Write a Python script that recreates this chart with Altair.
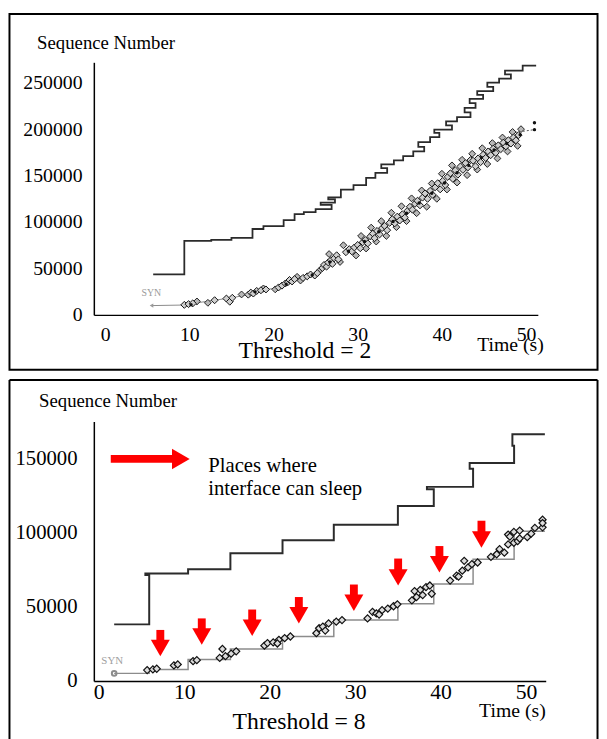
import altair as alt
import pandas as pd

SERIF = "Liberation Serif"

# ---------------- Top panel: Threshold = 2 ----------------
top_xticks = [0, 10, 20, 30, 40, 50]
top_yticks = [0, 50000, 100000, 150000, 200000, 250000]

top_win_t = [5.7, 9.4, 9.4, 12.6, 12.6, 15.0, 15.0, 17.5, 17.5, 18.8, 18.8, 21.2, 21.2, 22.5, 22.5,
             23.6, 23.6, 25.0, 25.0, 26.9, 26.9, 25.6, 25.6, 27.3, 27.3, 26.5, 26.5, 28.0, 28.0,
             29.5, 29.5, 31.0, 31.0, 32.1, 32.1, 33.5, 33.5, 32.8, 32.8, 34.3, 34.3, 35.4, 35.4,
             36.6, 36.6, 37.9, 37.9, 37.2, 37.2, 38.6, 38.6, 39.7, 39.7, 39.1, 39.1, 41.2, 41.2,
             40.5, 40.5, 41.8, 41.8, 43.4, 43.4, 42.7, 42.7, 44.0, 44.0, 43.3, 43.3, 44.9, 44.9,
             44.2, 44.2, 46.1, 46.1, 45.4, 45.4, 46.8, 46.8, 48.2, 48.2, 47.5, 47.5, 49.6, 49.6, 51.2]
top_win_seq = [43600, 43600, 79800, 79800, 80900, 80900, 83000, 83000, 92500, 92500, 95700, 95700,
               102000, 102000, 108500, 108500, 110600, 110600, 113800, 113800, 118400, 118400,
               121000, 121000, 124500, 124500, 126600, 126600, 135000, 135000, 139700, 139700,
               147500, 147500, 153000, 153000, 158000, 158000, 162000, 162000, 166500, 166500,
               171000, 171000, 176000, 176000, 181000, 181000, 186000, 186000, 191500, 191500,
               196000, 196000, 199500, 199500, 204000, 204000, 208500, 208500, 213000, 213000,
               218000, 218000, 223000, 223000, 228000, 228000, 232500, 232500, 237000, 237000,
               241000, 241000, 245500, 245500, 250000, 250000, 254500, 254500, 259000, 259000,
               263000, 263000, 268500, 268500]

top_pkt_t = [9.4, 9.9, 10.4, 13.0, 14.4, 14.8, 15.1, 17.0, 17.3, 17.6, 18.0, 18.5, 19.1,
             20.6, 21.0, 21.4, 21.7, 21.9, 22.2, 22.5,
             23.5, 24.0, 24.4, 24.9, 25.2,
             25.8, 26.0, 26.3, 26.5, 26.8, 27.0, 27.2, 27.5, 27.7,
             28.6, 29.0, 29.3, 29.6, 30.0, 30.3, 30.6, 30.9, 31.2,
             31.5, 31.8, 32.0, 32.3, 32.6, 32.9, 33.2, 33.5, 33.8,
             34.1, 34.4, 34.7, 35.0, 35.3, 35.6, 35.9, 36.2,
             36.5, 36.8, 37.1, 37.4, 37.7, 38.0, 38.3, 38.6,
             38.9, 39.2, 39.5, 39.8, 40.1, 40.4, 40.7, 41.0,
             41.3, 41.6, 41.9, 42.2, 42.5, 42.8, 43.1, 43.4,
             43.7, 44.0, 44.3, 44.6, 44.9, 45.2, 45.5, 45.8,
             46.1, 46.4, 46.7, 47.0, 47.3, 47.6, 47.9, 48.2,
             48.5, 48.8, 49.1]
top_pkt_seq = [10800, 11600, 12400, 15800, 17600, 14200, 18400, 21800, 24000, 23000, 25800, 26500, 27400,
               29600, 31500, 33800, 35200, 37600, 36000, 38500,
               39800, 41500, 43500, 42400, 45000,
               50500, 53800, 52000, 56500, 58900, 55000, 61000, 64200, 59800,
               67500, 70800, 68400, 72600, 75300, 71800, 78200, 80700, 77000,
               84500, 87600, 82600, 90400, 86700, 93500, 95800, 91200, 99200,
               103000, 98600, 105800, 101700, 108300, 104800, 112000, 116400,
               113300, 119600, 122900, 118000, 126300, 130800, 125000, 133600,
               129300, 137400, 141800, 135200, 144300, 139900, 148600, 152400,
               146500, 155700, 151000, 159800, 156200, 163400, 158900, 166700,
               166000, 160000, 168500, 164500, 172500, 169000, 176000, 172000,
               179000, 174500, 182500, 178500, 185500, 181500, 188000, 184500,
               191000, 188000, 193500]

top_pkt2_t = [10.9, 12.2, 16.2, 18.8, 20.2, 22.8, 23.2, 25.5, 26.6, 27.9, 28.3, 29.8, 30.4, 31.0,
              31.6, 32.2, 32.8, 33.4, 34.0, 34.6, 35.2, 35.8, 36.4, 37.0, 37.6, 38.2, 38.8, 39.4,
              40.0, 40.6, 41.2, 41.8, 42.4, 43.0, 43.6, 44.2, 44.8, 45.4, 46.0, 46.6, 47.2, 47.8,
              48.4, 49.0, 49.4]
top_pkt2_seq = [14500, 13000, 22000, 28500, 27500, 41000, 37000, 48000, 65500, 57000, 75000, 64000,
                85000, 71500, 94000, 79000, 101000, 85000, 110000, 94500, 117000, 101000, 125500,
                109500, 134000, 116500, 141500, 125000, 152000, 135000, 161000, 142500, 167000,
                150500, 173500, 156500, 179500, 162500, 185000, 168500, 191000, 176000, 197000,
                182000, 200000]

top_ack_t = [10.2, 17.8, 21.5, 24.6, 26.7, 28.9, 30.8, 32.5, 34.2, 35.8, 37.3, 38.8, 40.3,
             41.8, 43.2, 44.7, 46.2, 47.7, 49.3, 51.0, 51.0]
top_ack_seq = [11000, 24800, 33000, 43000, 57000, 68500, 79000, 89500, 100500, 109500, 120500,
               131000, 142000, 153000, 161000, 169500, 177500, 184500, 194000, 199500, 207000]

top_syn_t = [5.5, 9.3, 12.7, 14.6, 16.6, 18.5, 20.7]
top_syn_seq = [10000, 10600, 15500, 17800, 21000, 26000, 29800]
top_tail_t = [48.7, 51.0]
top_tail_seq = [196500, 199500]

# ---------------- Bottom panel: Threshold = 8 ----------------
bot_xticks = [0, 10, 20, 30, 40, 50]
bot_yticks = [0, 50000, 100000, 150000]

bot_win_t = [1.8, 5.9, 5.9, 5.45, 5.45, 10.45, 10.45, 15.4, 15.4, 21.5, 21.5, 27.5, 27.5, 35.0,
             35.0, 39.2, 39.2, 38.4, 38.4, 43.8, 43.8, 43.4, 43.4, 48.6, 48.6, 48.4, 48.4, 52.2]
bot_win_seq = [38200, 38200, 71500, 71500, 72600, 72600, 75500, 75500, 86200, 86200, 95100,
               95100, 105500, 105500, 118200, 118200, 129500, 129500, 131100, 131100, 143300,
               143300, 147300, 147300, 158900, 158900, 166700, 166700]

bot_ack_t = [1.8, 5.9, 5.9, 10.45, 10.45, 15.4, 15.4, 21.5, 21.5, 27.5, 27.5, 35.0, 35.0, 39.2,
             39.2, 43.8, 43.8, 48.6, 48.6, 52.2]
bot_ack_seq = [5100, 5100, 7800, 7800, 14500, 14500, 21500, 21500, 30000, 30000, 41100, 41100,
               52200, 52200, 65500, 65500, 82200, 82200, 101100, 101100]

bot_pkt_t = [5.66, 6.33, 6.78, 8.79, 9.24, 11.03, 11.47, 14.47, 14.15, 14.82, 15.49, 16.08,
             19.38, 19.74, 20.41, 21.08, 21.75, 22.42, 25.46, 25.78, 26.22, 26.89, 27.79, 28.46,
             31.45, 32.03, 32.48, 33.15, 33.82, 34.49, 34.94, 36.64, 37.18, 37.62, 38.29, 38.74,
             38.96, 36.95, 41.11, 41.87, 42.54, 42.76, 43.21, 43.66, 44.33, 45.89, 46.56, 47.46,
             47.90, 48.57, 49.02, 49.25, 47.90, 48.57, 49.25, 50.14, 51.03, 51.93, 51.93, 51.93,
             20.9, 26.5, 32.8, 37.9, 42.1, 46.9, 48.1, 50.6]
bot_pkt_seq = [7350, 7800, 8240, 10460, 11130, 13350, 14020, 21570, 15570, 16690, 18460, 20020,
               23800, 25570, 26020, 27800, 28910, 30020, 32240, 35580, 36690, 38910, 40020, 41130,
               42240, 46680, 45570, 47790, 48900, 50460, 51790, 54460, 56680, 61570, 63350, 64460,
               58900, 60680, 67790, 71130, 74460, 81130, 76680, 78900, 80010, 83790, 85570, 86680,
               92230, 93350, 94460, 96230, 98900, 100680, 101570, 97120, 103350, 103790, 108900,
               106680,
               25300, 34000, 44800, 58000, 70500, 89000, 97500, 99500]

# red "sleep" arrows
arrow_t = [7.2, 12.05, 17.95, 23.41, 29.85, 35.03, 39.86, 44.78]
arrow_top = [34450, 42240, 48240, 56680, 65130, 82680, 91120, 108230]
arrow_tip = [16690, 24460, 30460, 38900, 47350, 64460, 73350, 90010]
legend_arrow_t = [1.4, 9.6]
legend_arrow_seq = [150000, 150000]
legend_text = ["Places where", "interface can sleep"]
legend_text_t = [12.8, 12.8]
legend_text_seq = [141300, 125500]

# ---------------- helpers ----------------
one = pd.DataFrame({"k": [0]})


def axis_x(title, tx, ty, fs, pad):
    return alt.Axis(values=top_xticks, format="d", title=title, titleX=tx, titleY=ty,
                    titleAlign="left", titleBaseline="alphabetic", titleAngle=0,
                    titleFontSize=20, titleFontWeight="normal", titleFont=SERIF,
                    labelFont=SERIF, labelFontSize=fs, labelPadding=pad, labelColor="black",
                    labelFlush=False, labelOverlap=False, ticks=False, grid=False,
                    domainColor="black", domainWidth=1.5, titleColor="black")


def axis_y(values, title, tx, ty, fs, pad):
    return alt.Axis(values=values, format="d", title=title, titleX=tx, titleY=ty,
                    titleAlign="left", titleBaseline="alphabetic", titleAngle=0,
                    titleFontSize=19, titleFontWeight="normal", titleFont=SERIF,
                    labelFont=SERIF, labelFontSize=fs, labelPadding=pad, labelColor="black",
                    labelFlush=False, labelOverlap=False, ticks=False, grid=False,
                    domainColor="black", domainWidth=1.5, titleColor="black")


def line_df(t, s):
    return pd.DataFrame({"t": t, "seq": s, "i": list(range(len(t)))})


# ---------------- top panel ----------------
TW, TH = 450, 256
tx_scale = alt.Scale(domain=[-1.35, 51.4], nice=False, zero=False)
ty_scale = alt.Scale(domain=[0, 272000], nice=False, zero=False)
tax = axis_x("Time (s)", 388, 36, 20, 10)
tay = axis_y(top_yticks, "Sequence Number", -58, -14, 20, 12)


def TX(f="t"):
    return alt.X(f"{f}:Q", scale=tx_scale, axis=tax)


def TY(f="seq"):
    return alt.Y(f"{f}:Q", scale=ty_scale, axis=tay)


top_win = alt.Chart(line_df(top_win_t, top_win_seq)).mark_line(
    color="#2b2b2b", strokeWidth=1.8).encode(x=TX(), y=TY(), order="i:Q")
top_syn = alt.Chart(line_df(top_syn_t, top_syn_seq)).mark_line(
    color="#8a8a8a", strokeWidth=1).encode(x=TX(), y=TY(), order="i:Q")
top_tail = alt.Chart(line_df(top_tail_t, top_tail_seq)).mark_line(
    color="#555", strokeWidth=1, strokeDash=[2, 2]).encode(x=TX(), y=TY(), order="i:Q")
top_pkts2 = alt.Chart(pd.DataFrame({"t": top_pkt2_t, "seq": top_pkt2_seq})).mark_point(
    shape="diamond", filled=True, fill="#b8b8b8", stroke="#222", strokeWidth=1,
    size=48, opacity=1).encode(x=TX(), y=TY())
top_pkts = alt.Chart(pd.DataFrame({"t": top_pkt_t, "seq": top_pkt_seq})).mark_point(
    shape="diamond", filled=True, fill="#cfcfcf", stroke="#111", strokeWidth=1,
    size=50, opacity=1).encode(x=TX(), y=TY())
top_acks = alt.Chart(pd.DataFrame({"t": top_ack_t, "seq": top_ack_seq})).mark_point(
    shape="circle", filled=True, color="#111", size=12, opacity=1).encode(x=TX(), y=TY())
top_syn_head = alt.Chart(pd.DataFrame({"t": [top_syn_t[0]], "seq": [top_syn_seq[0]]})).mark_point(
    shape="triangle-left", filled=True, color="#9a9a9a", size=18, opacity=1).encode(x=TX(), y=TY())
top_syn_lbl = alt.Chart(pd.DataFrame({"t": [4.3], "seq": [23400], "s": ["SYN"]})).mark_text(
    font=SERIF, fontSize=10, color="#9a9a9a", align="left", baseline="middle").encode(
    x=TX(), y=TY(), text="s:N")
top_box = alt.Chart(one).mark_rect(fillOpacity=0, stroke="black", strokeWidth=2).encode(
    x=alt.value(-85.5), x2=alt.value(510.5), y=alt.value(-49), y2=alt.value(311.5))
top_title = alt.Chart(one).mark_text(
    text="Threshold = 2", font=SERIF, fontSize=24, color="black", align="center",
    baseline="alphabetic").encode(x=alt.value(214), y=alt.value(300))

top = alt.layer(top_box, top_syn, top_win, top_tail, top_pkts2, top_pkts, top_acks,
                top_syn_head, top_syn_lbl, top_title).properties(width=TW, height=TH)

# ---------------- bottom panel ----------------
BW, BH = 458, 263
bx_scale = alt.Scale(domain=[-0.58, 52.3], nice=False, zero=False)
by_scale = alt.Scale(domain=[0, 175300], nice=False, zero=False)
bax = axis_x("Time (s)", 390, 36, 22, 1)
bay = axis_y(bot_yticks, "Sequence Number", -56, -15, 21, 17)


def BX(f="t"):
    return alt.X(f"{f}:Q", scale=bx_scale, axis=bax)


def BY(f="seq"):
    return alt.Y(f"{f}:Q", scale=by_scale, axis=bay)


bot_ack = alt.Chart(line_df(bot_ack_t, bot_ack_seq)).mark_line(
    color="#8c8c8c", strokeWidth=1.5).encode(x=BX(), y=BY(), order="i:Q")
bot_win = alt.Chart(line_df(bot_win_t, bot_win_seq)).mark_line(
    color="#2b2b2b", strokeWidth=2).encode(x=BX(), y=BY(), order="i:Q")
bot_pkts = alt.Chart(pd.DataFrame({"t": bot_pkt_t, "seq": bot_pkt_seq})).mark_point(
    shape="diamond", filled=True, fill="#dcdcdc", stroke="#111", strokeWidth=1.2,
    size=52, opacity=1).encode(x=BX(), y=BY())
bot_syn_pt = alt.Chart(pd.DataFrame({"t": [bot_ack_t[0]], "seq": [bot_ack_seq[0]]})).mark_point(
    shape="circle", filled=False, color="#8c8c8c", size=22, opacity=1).encode(x=BX(), y=BY())
bot_syn_lbl = alt.Chart(pd.DataFrame({"t": [0.3], "seq": [13300], "s": ["SYN"]})).mark_text(
    font=SERIF, fontSize=11, color="#a0a0a0", align="left", baseline="middle").encode(
    x=BX(), y=BY(), text="s:N")

arr_df = pd.DataFrame({"t": arrow_t, "top": arrow_top, "tip": arrow_tip})
arr_df["head"] = arr_df["tip"] + 5500
arr_shaft = alt.Chart(arr_df).mark_rule(color="#ff0000", strokeWidth=8).encode(
    x=BX(), y=BY("top"), y2="head:Q")
arr_head = alt.Chart(arr_df).mark_point(
    shape="triangle-down", filled=True, color="#ff0000", size=370, opacity=1).encode(
    x=BX(), y=BY("head"))

leg_df = pd.DataFrame({"t": [legend_arrow_t[0]], "t2": [legend_arrow_t[1]],
                       "seq": [legend_arrow_seq[0]]})
leg_shaft = alt.Chart(leg_df).mark_rule(color="#ff0000", strokeWidth=8).encode(
    x=BX(), x2="t2:Q", y=BY())
leg_head = alt.Chart(leg_df).mark_point(
    shape="triangle-right", filled=True, color="#ff0000", size=430, opacity=1).encode(
    x=BX("t2"), y=BY())
leg_txt = alt.Chart(pd.DataFrame({"t": legend_text_t, "seq": legend_text_seq,
                                  "s": legend_text})).mark_text(
    font=SERIF, fontSize=21, color="black", align="left", baseline="alphabetic").encode(
    x=BX(), y=BY(), text="s:N")

bot_frame_l = alt.Chart(one).mark_rule(color="black", strokeWidth=2).encode(
    x=alt.value(-85.5), y=alt.value(-42), y2=alt.value(330))
bot_frame_r = alt.Chart(one).mark_rule(color="black", strokeWidth=2).encode(
    x=alt.value(510.5), y=alt.value(-42), y2=alt.value(330))
bot_frame_t = alt.Chart(one).mark_rule(color="black", strokeWidth=2).encode(
    x=alt.value(-85.5), x2=alt.value(510.5), y=alt.value(-42))
bot_title = alt.Chart(one).mark_text(
    text="Threshold = 8", font=SERIF, fontSize=24, color="black", align="center",
    baseline="alphabetic").encode(x=alt.value(208), y=alt.value(312))

bottom = alt.layer(bot_frame_l, bot_frame_r, bot_frame_t, bot_ack, bot_win, bot_pkts,
                   bot_syn_pt, bot_syn_lbl, arr_shaft, arr_head, leg_shaft, leg_head,
                   leg_txt, bot_title).properties(width=BW, height=BH)

chart = alt.vconcat(top, bottom, spacing=8).properties(
    padding={"left": 0, "top": 0, "right": 0, "bottom": 0},
    background="white",
).configure_view(stroke=None, strokeWidth=0).configure_text(font=SERIF)

chart.save("out.html", embed_options={"renderer": "svg", "actions": False})
